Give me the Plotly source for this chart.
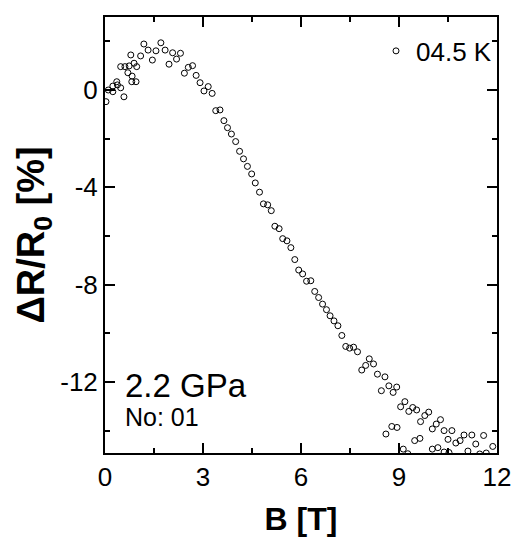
import plotly.graph_objects as go

# Magnetic field B [T] and magnetoresistance dR/R0 [%] at 4.5 K, 2.2 GPa
b_field = [0.03, 0.10, 0.24, 0.24, 0.36, 0.38, 0.48, 0.58, 0.48, 0.61,
           0.74, 0.70, 0.83, 0.82, 0.95, 0.89, 0.97, 0.79, 1.09, 1.19,
           1.32, 1.45, 1.56, 1.71, 1.84, 1.96, 2.07, 2.19, 2.31, 2.43,
           2.55, 2.68, 2.79, 2.91, 3.03, 3.16, 3.28, 3.39, 3.52, 3.64,
           3.75, 3.87, 4.00, 4.12, 4.24, 4.36, 4.49, 4.60, 4.73, 4.85,
           4.98, 5.09, 5.20, 5.33, 5.44, 5.57, 5.69, 5.81, 5.93, 6.05,
           6.17, 6.30, 6.42, 6.54, 6.66, 6.78, 6.89, 7.01, 7.13, 7.25,
           7.37, 7.49, 7.61, 7.73, 7.86, 7.98, 8.09, 8.22, 8.34, 8.46,
           8.57, 8.69, 8.82, 8.93, 9.05, 9.18, 9.30, 9.42, 9.54, 9.66,
           9.79, 9.91, 10.02, 10.14, 10.27, 10.38, 10.50, 10.62, 10.74, 10.87,
           10.99, 11.11, 11.23, 11.35, 11.59, 11.87]
d_r = [-0.48, 0.00, -0.07, 0.16, 0.34, 0.21, 0.09, -0.28, 0.96, 0.96,
       0.99, 0.71, 0.57, 0.34, 0.34, 1.10, 0.96, 1.44, 1.40, 1.89,
       1.64, 1.23, 1.61, 1.94, 1.64, 1.06, 1.53, 1.27, 1.51, 0.69,
       0.93, 1.00, 0.60, 0.30, -0.04, 0.14, -0.14, -0.85, -0.82, -1.26,
       -1.55, -1.81, -2.12, -2.52, -2.83, -3.14, -3.45, -3.82, -4.20, -4.68,
       -4.72, -4.96, -5.60, -5.70, -6.11, -6.20, -6.48, -6.97, -7.40, -7.56,
       -7.86, -7.84, -8.28, -8.53, -8.80, -9.03, -9.28, -9.49, -9.69, -10.09,
       -10.54, -10.61, -10.57, -10.76, -11.51, -11.32, -11.05, -11.26, -11.68, -12.36,
       -11.79, -12.16, -12.43, -12.21, -13.02, -12.81, -13.21, -13.05, -13.15, -13.63,
       -13.38, -13.24, -13.93, -13.73, -13.55, -14.00, -14.36, -14.00, -14.51, -14.41,
       -14.18, -14.84, -14.18, -14.55, -14.20, -14.65]

# Lower scattered branch at high field
b_tail = [8.60, 8.78, 8.94, 9.13, 9.27, 9.48, 9.64, 10.02, 10.19, 10.38,
          10.53, 11.47, 11.67]
d_r_tail = [-14.14, -13.83, -13.87, -14.76, -14.95, -14.41, -14.32, -14.76, -14.70, -14.88,
            -14.90, -14.96, -14.92]

x_ticks = [0, 3, 6, 9, 12]
y_ticks = [0, -4, -8, -12]
series_name = "04.5 K"
label_pressure = "2.2 GPa"
label_number = "No: 01"

FONT = "Liberation Sans, Arial, sans-serif"

fig = go.Figure()
fig.add_trace(go.Scatter(
    x=b_field + b_tail, y=d_r + d_r_tail, mode="markers", name=series_name,
    marker=dict(symbol="circle-open", size=6, color="black", line=dict(width=1, color="black")),
    showlegend=True,
))

axis_common = dict(
    showline=True, linewidth=2, linecolor="black", mirror="ticks",
    ticks="inside", ticklen=10, tickwidth=2, tickcolor="black",
    showgrid=False, zeroline=False, automargin=False,
    tickfont=dict(family=FONT, size=26, color="black"),
)

fig.update_xaxes(
    range=[0, 12], tickvals=x_ticks, ticktext=[str(v) for v in x_ticks],
    minor=dict(ticks="inside", ticklen=5, tickwidth=2, dtick=1.5, tick0=0, tickcolor="black"),
    title=dict(text="<b>B [T]</b>", font=dict(family=FONT, size=32, color="black"), standoff=16),
    **axis_common,
)
fig.update_yaxes(
    range=[-14.92, 3.0], tickvals=y_ticks, ticktext=[str(v) for v in y_ticks],
    minor=dict(ticks="inside", ticklen=5, tickwidth=2, dtick=4, tick0=2, tickcolor="black"),
    title=dict(text="<b>ΔR/R<sub>0</sub> [%]</b>", font=dict(family=FONT, size=38, color="black"), standoff=4),
    **axis_common,
)

fig.add_annotation(x=0.046, y=0.154, xref="paper", yref="paper", text=label_pressure,
                   showarrow=False, xanchor="left", yanchor="middle",
                   font=dict(family=FONT, size=33, color="black"))
fig.add_annotation(x=0.046, y=0.083, xref="paper", yref="paper", text=label_number,
                   showarrow=False, xanchor="left", yanchor="middle",
                   font=dict(family=FONT, size=25, color="black"))

fig.update_layout(
    width=512, height=533,
    margin=dict(l=97, r=22.5, t=9, b=87.7),
    plot_bgcolor="white", paper_bgcolor="white",
    legend=dict(x=1.0, y=0.976, xanchor="right", yanchor="top",
                bgcolor="rgba(0,0,0,0)", borderwidth=0,
                font=dict(family=FONT, size=26, color="black"),
                itemwidth=30),
)

fig.write_html("out.html")
